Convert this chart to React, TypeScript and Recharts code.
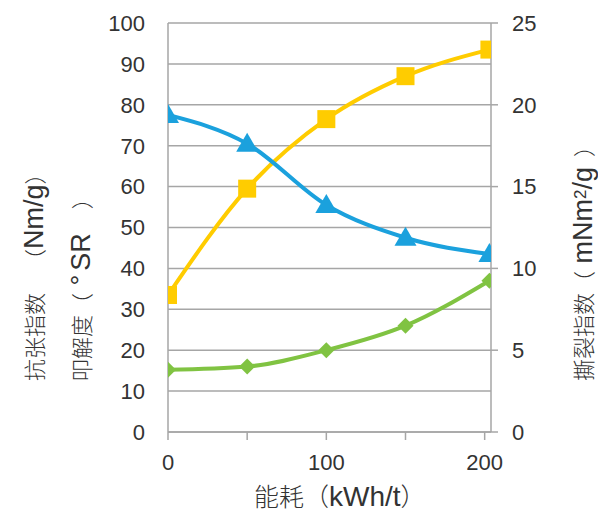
import { CartesianGrid, Line, LineChart, XAxis, YAxis } from 'recharts';

const energy = [0, 50, 100, 150, 203];
const freeness = [33.5, 59.5, 76.5, 87, 93.5];
const tensile = [77.5, 70.5, 55.5, 47.5, 43.5];
const tear = [3.8, 4.0, 5.0, 6.5, 9.25];

const xTicks = [0, 50, 100, 150, 200];
const leftTicks = [0, 10, 20, 30, 40, 50, 60, 70, 80, 90, 100];
const rightTicks = [0, 5, 10, 15, 20, 25];

const data = energy.map((e, i) => ({ energy: e, freeness: freeness[i], tensile: tensile[i], tear: tear[i] }));

const YELLOW = '#FFCC00';
const BLUE = '#1BA1DD';
const GREEN = '#80C342';
const GRID = '#A6A6A6';
const LATIN = '"Liberation Sans", Arial, sans-serif';
const CJK = '"Noto Sans CJK SC", sans-serif';
const TEXT = '#333';

const Square = (p: any) => (
  <rect key={p.index} x={p.cx - 9} y={p.cy - 9} width={18} height={18} fill={YELLOW} />
);
const Triangle = (p: any) => (
  <polygon
    key={p.index}
    points={`${p.cx},${p.cy - 11} ${p.cx + 11},${p.cy + 8} ${p.cx - 11},${p.cy + 8}`}
    fill={BLUE}
  />
);
const Diamond = (p: any) => (
  <polygon
    key={p.index}
    points={`${p.cx},${p.cy - 8} ${p.cx + 8},${p.cy} ${p.cx},${p.cy + 8} ${p.cx - 8},${p.cy}`}
    fill={GREEN}
  />
);

const tickStyle = { fill: TEXT, fontSize: 22, fontFamily: LATIN };

// text pieces; gap = extra space after the piece
const cjk = (size: number, gap = 0) => ({
  fontFamily: CJK,
  fontSize: size,
  fontWeight: 300,
  display: 'inline-block',
  marginRight: gap,
});
const latin = (size: number, gap = 0) => ({
  fontFamily: LATIN,
  fontSize: size,
  display: 'inline-block',
  marginRight: gap,
});

// vertical label: x = centre of the column, y = bottom end of the text
const VLabel = ({ x, y, children }: { x: number; y: number; children: any }) => (
  <div
    style={{
      position: 'absolute',
      left: x,
      top: y,
      transformOrigin: '0 0',
      transform: 'rotate(-90deg) translateY(-50%)',
      whiteSpace: 'pre',
      lineHeight: 1.2,
      color: TEXT,
    }}
  >
    {children}
  </div>
);

export default function App() {
  return (
    <div style={{ position: 'absolute', left: 0, top: 0, width: 598, height: 518, background: '#fff' }}>
      <LineChart width={598} height={518} data={data} margin={{ top: 23, right: 0, bottom: 0, left: 0 }}>
        <CartesianGrid yAxisId="left" vertical={false} stroke={GRID} strokeWidth={1.5} />
        <XAxis
          dataKey="energy"
          type="number"
          domain={[0, 204]}
          ticks={xTicks}
          tickFormatter={(v) => (v % 100 === 0 ? String(v) : '')}
          height={86}
          stroke={GRID}
          strokeWidth={1.5}
          tickSize={8}
          tickMargin={14}
          tick={tickStyle}
          allowDataOverflow
        />
        <YAxis
          yAxisId="left"
          domain={[0, 100]}
          ticks={leftTicks}
          width={168}
          stroke={GRID}
          strokeWidth={1.5}
          tickLine={false}
          tickSize={0}
          tickMargin={23}
          tick={tickStyle}
        />
        <YAxis
          yAxisId="right"
          orientation="right"
          domain={[0, 25]}
          ticks={rightTicks}
          width={107}
          stroke={GRID}
          strokeWidth={1.5}
          tickSize={7}
          tickMargin={14}
          tick={tickStyle}
        />
        <Line
          yAxisId="left"
          dataKey="freeness"
          type="monotone"
          stroke={YELLOW}
          strokeWidth={4}
          dot={Square}
          isAnimationActive={false}
        />
        <Line
          yAxisId="left"
          dataKey="tensile"
          type="monotone"
          stroke={BLUE}
          strokeWidth={4}
          dot={Triangle}
          isAnimationActive={false}
        />
        <Line
          yAxisId="right"
          dataKey="tear"
          type="monotone"
          stroke={GREEN}
          strokeWidth={4}
          dot={Diamond}
          isAnimationActive={false}
        />
      </LineChart>
      <VLabel x={34} y={381}>
        <span style={cjk(22, 22)}>抗张指数</span>
        <span style={cjk(22)}>（</span>
        <span style={latin(27)}>Nm/g</span>
        <span style={cjk(22)}>）</span>
      </VLabel>
      <VLabel x={81} y={381}>
        <span style={cjk(22)}>叩解度（</span>
        <span style={latin(27, 4)}> °</span>
        <span style={latin(27, 24)}>SR</span>
        <span style={cjk(22)}>）</span>
      </VLabel>
      <VLabel x={583} y={381}>
        <span style={cjk(22)}>撕裂指数（</span>
        <span style={latin(27)}> mNm</span>
        <span style={{ ...latin(17), verticalAlign: 'super', lineHeight: 0 }}>2</span>
        <span style={latin(27, 10)}>/g</span>
        <span style={cjk(22)}>）</span>
      </VLabel>
      <div
        style={{
          position: 'absolute',
          left: 254,
          top: 497,
          transform: 'translateY(-50%)',
          whiteSpace: 'pre',
          lineHeight: 1.2,
          color: TEXT,
        }}
      >
        <span style={cjk(25)}>能耗（</span>
        <span style={latin(28)}>kWh/t</span>
        <span style={cjk(25)}>）</span>
      </div>
    </div>
  );
}
